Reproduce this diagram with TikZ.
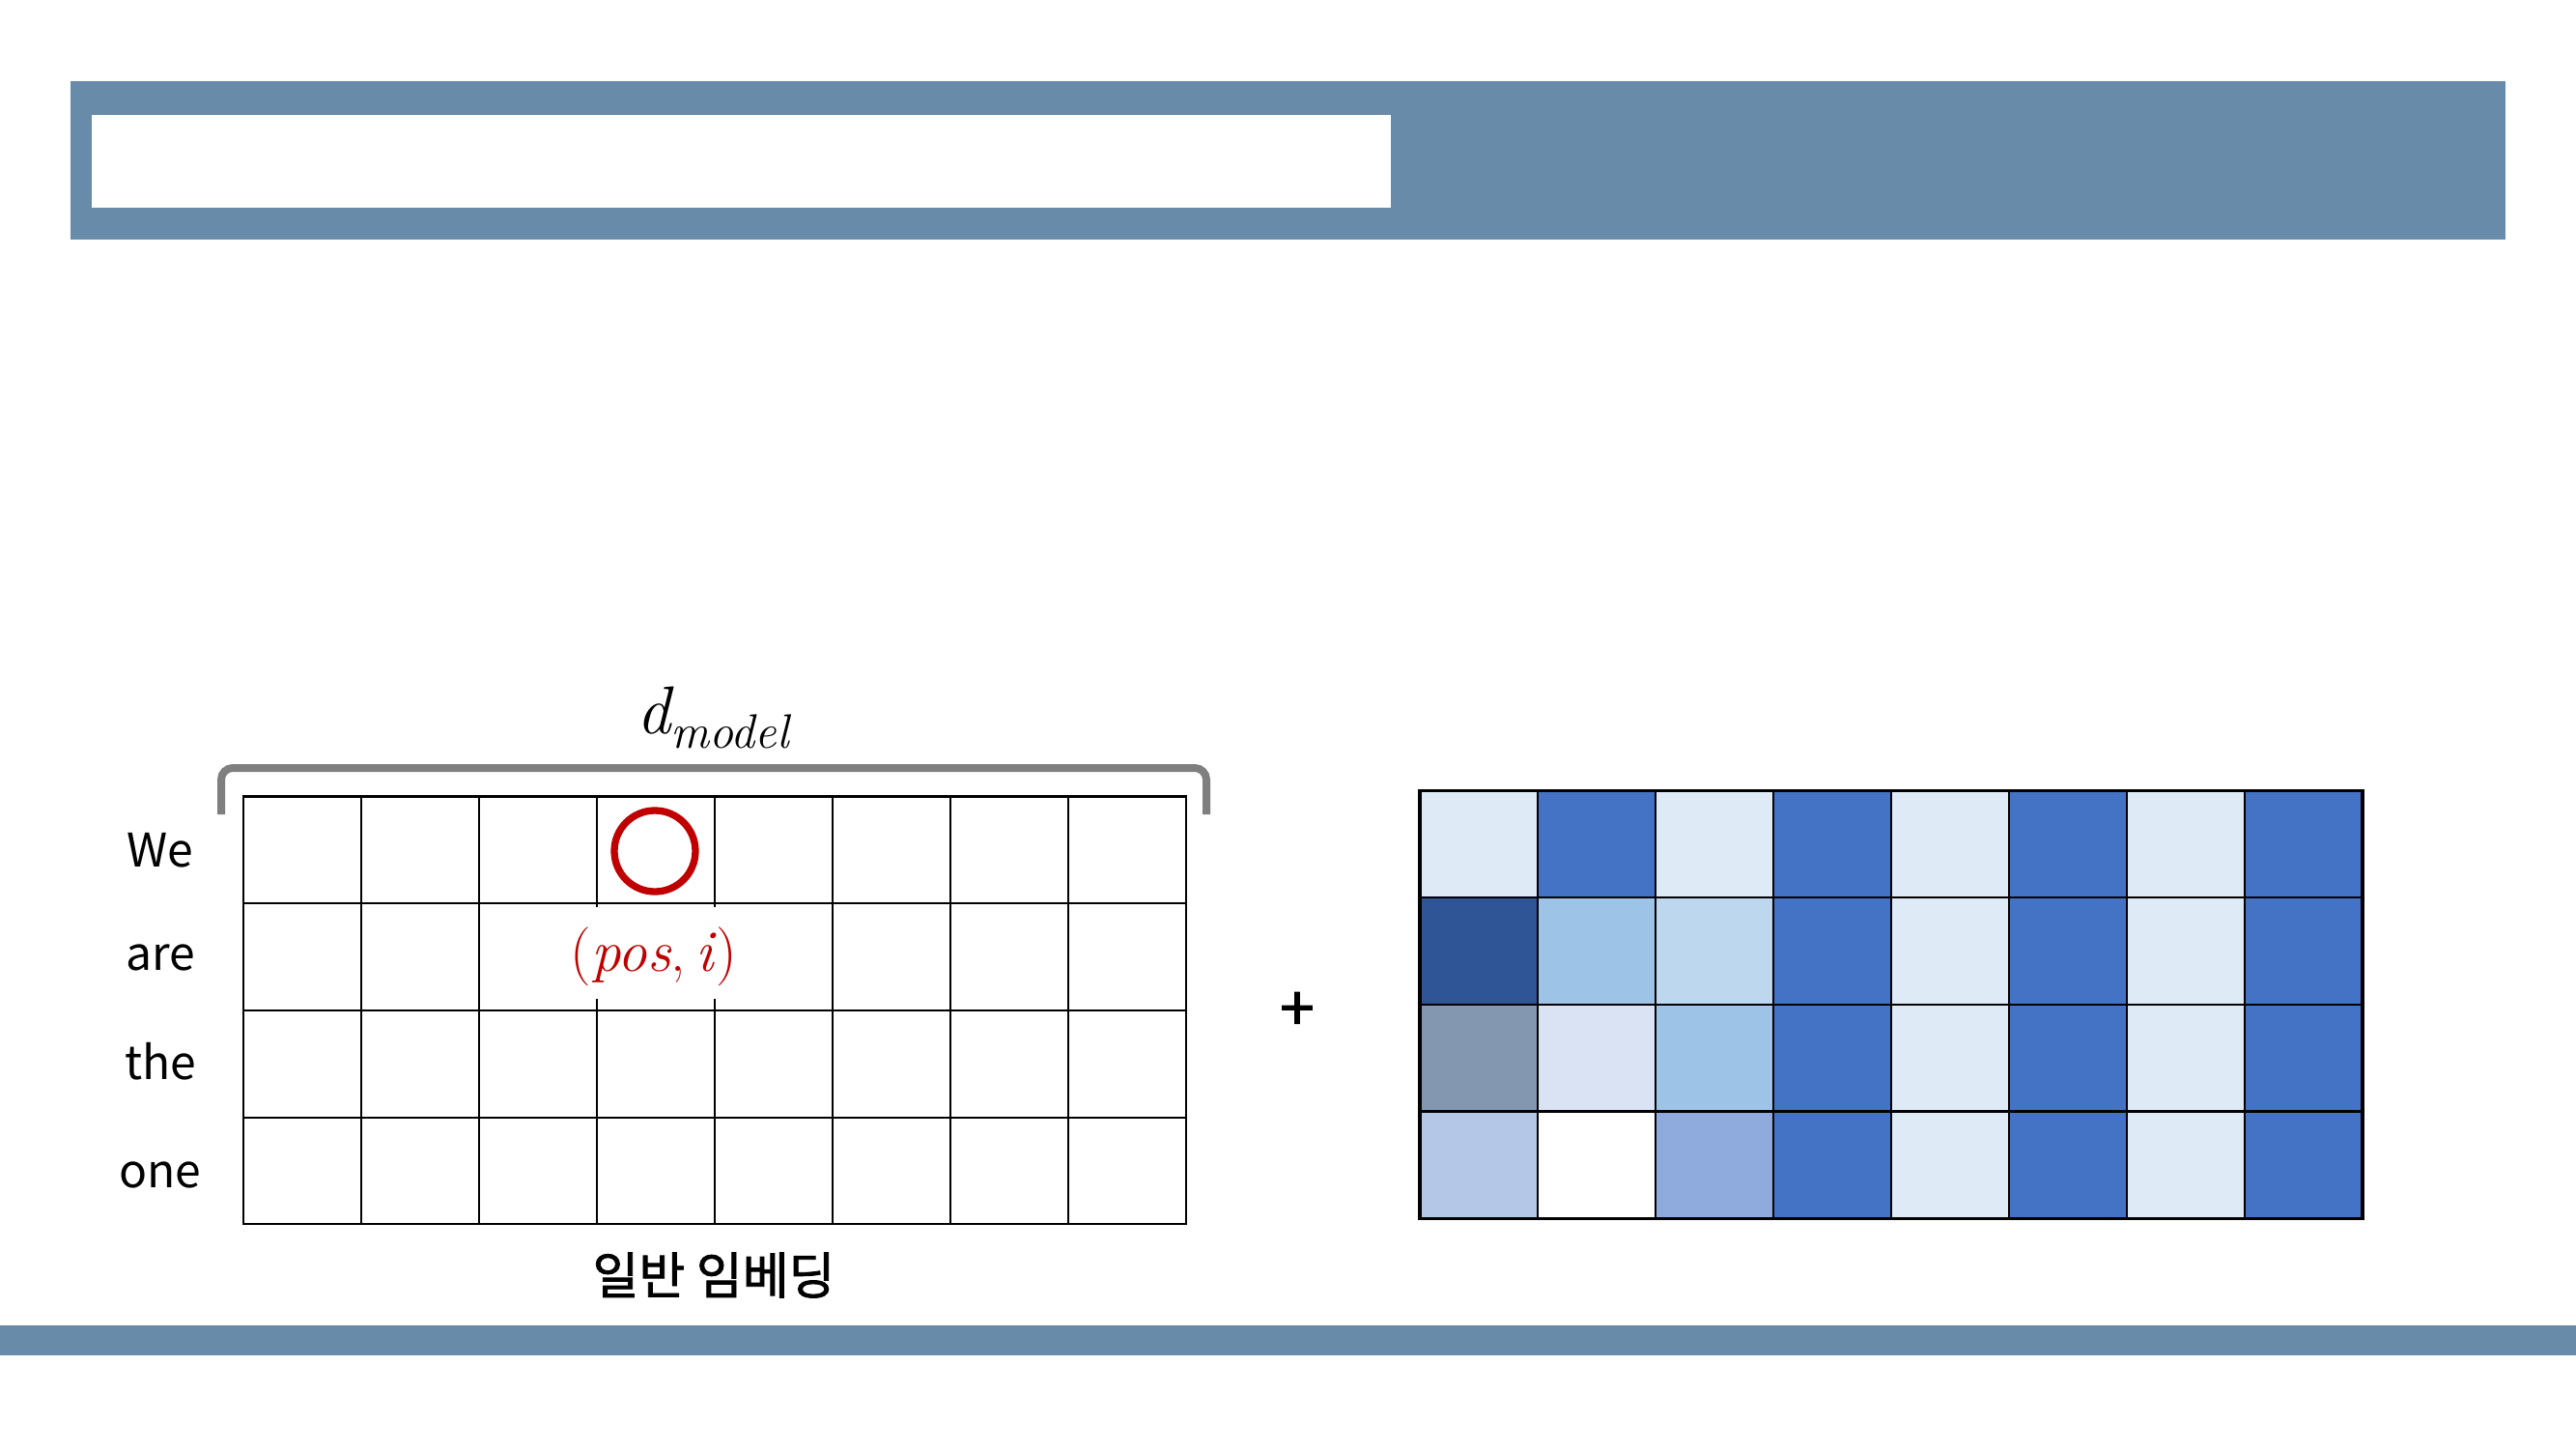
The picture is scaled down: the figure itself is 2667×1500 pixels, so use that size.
\documentclass[tikz,border=0pt]{standalone}
\usepackage{fontspec}
\newfontfamily\kr{Noto Sans CJK KR}
\newfontfamily\krmed[FakeBold=1.6]{Noto Sans CJK KR}
\definecolor{banner}{HTML}{678BA8}
\definecolor{bracegray}{HTML}{7F7F7F}
\definecolor{darkred}{HTML}{C00000}
\definecolor{pL}{HTML}{DEEBF7}
\definecolor{pB}{HTML}{4472C4}
\definecolor{pD}{HTML}{2F5597}
\definecolor{pM}{HTML}{9DC3E6}
\definecolor{pN}{HTML}{BDD7EE}
\definecolor{pG}{HTML}{8497B0}
\definecolor{pK}{HTML}{DAE3F3}
\definecolor{pS}{HTML}{B4C7E7}
\definecolor{pT}{HTML}{8FAADC}
\begin{document}
\begin{tikzpicture}[x=1pt,y=-1pt,
  lcell/.style={draw=black, line width=2.2pt, minimum width=122pt, minimum height=110.7pt, inner sep=0pt, outer sep=0pt},
  rcell/.style={draw=black, line width=2.4pt, minimum width=122pt, minimum height=110.7pt, inner sep=0pt, outer sep=0pt},
  word/.style={font=\kr\fontsize{48}{56}\selectfont, anchor=base, inner sep=0pt},
]
\useasboundingbox (0,0) rectangle (2667,1500);
% top banner
\fill[banner] (73,84) rectangle (2594,247.5);
\fill[white] (95,119) rectangle (1440,215);
% bottom bar
\fill[banner] (0,1372) rectangle (2667,1403);

% left grid
\foreach \r in {0,...,3}
  \foreach \c in {0,...,7}
    \node[lcell] (L-\r-\c) at ({252+61+122*\c},{824.5+55.35+110.7*\r}) {};

% brace
\coordinate (b1) at (229,843);
\coordinate (b2) at (229,795);
\coordinate (b3) at (1249,795);
\coordinate (b4) at (1249,843);
\draw[bracegray, line width=8pt, rounded corners=12pt] (b1) -- (b2) -- (b3) -- (b4);
\node[anchor=base, inner sep=0pt, font=\fontsize{70}{76}\selectfont] (dm) at (738,759)
  {\itshape d\raisebox{-0.22em}{\fontsize{50}{54}\selectfont model}};

% row labels
\node[word] (wWe) at (166,897) {We};
\node[word] (wAre) at (166,1004) {are};
\node[word] (wThe) at (166,1117) {the};
\node[word] (wOne) at (166,1229) {one};

% (pos,i) label with white patch
\fill[white] (585,939) rectangle (773,1034);
\node[inner sep=0pt, anchor=base, text=darkred, font=\fontsize{61}{66}\selectfont] (posi) at (677,1005)
  {({\itshape pos},\,{\itshape i\/})};
\node[circle, draw=darkred, line width=7.3pt, minimum size=84pt, inner sep=0pt] (mark) at (678,881) {};

% caption
\node[font=\krmed\fontsize{52}{60}\selectfont, inner sep=0pt] (cap) at (739,1320) {일반 임베딩};

% plus
\node[font=\krmed\fontsize{64}{70}\selectfont, inner sep=0pt] (plus) at (1343,1047) {+};

% right grid
\foreach \col [count=\c from 0] in {pL,pB,pL,pB,pL,pB,pL,pB}
  \node[rcell, fill=\col] (R-0-\c) at ({1470+61+122*\c},{818.3+55.35}) {};
\foreach \col [count=\c from 0] in {pD,pM,pN,pB,pL,pB,pL,pB}
  \node[rcell, fill=\col] (R-1-\c) at ({1470+61+122*\c},{818.3+55.35+110.7}) {};
\foreach \col [count=\c from 0] in {pG,pK,pM,pB,pL,pB,pL,pB}
  \node[rcell, fill=\col] (R-2-\c) at ({1470+61+122*\c},{818.3+55.35+221.4}) {};
\foreach \col [count=\c from 0] in {pS,white,pT,pB,pL,pB,pL,pB}
  \node[rcell, fill=\col] (R-3-\c) at ({1470+61+122*\c},{818.3+55.35+332.1}) {};
\draw[line width=3.2pt] (R-0-0.north west) rectangle (R-3-7.south east);
\end{tikzpicture}
\end{document}
